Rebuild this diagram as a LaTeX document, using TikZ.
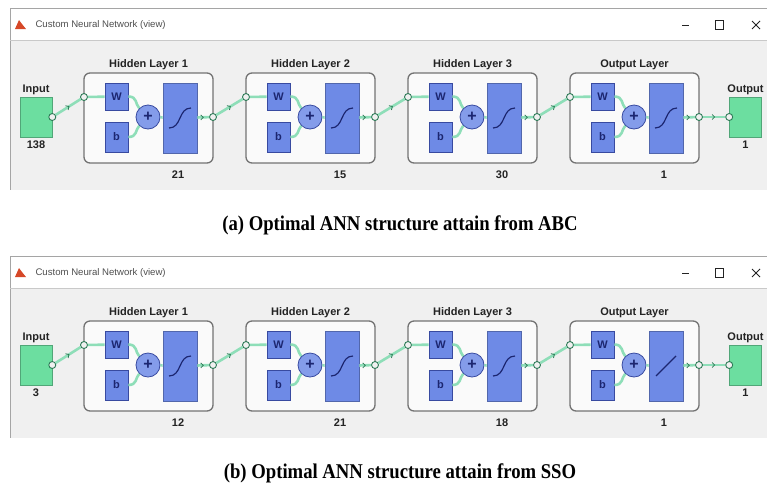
\documentclass[tikz,border=0pt]{standalone}
\usepackage{fontspec}
\setmainfont{Liberation Sans}
\newfontfamily\capfont{Liberation Serif}
\usetikzlibrary{calc,positioning,arrows.meta,decorations.markings}
\definecolor{nnbg}{RGB}{240,240,240}
\definecolor{nnpanel}{RGB}{250,250,250}
\definecolor{nnframe}{RGB}{165,165,165}
\definecolor{nnbox}{RGB}{115,115,115}
\definecolor{nntext}{RGB}{35,35,35}
\definecolor{nngreen}{RGB}{108,222,160}
\definecolor{nnwire}{RGB}{142,222,184}
\definecolor{nnwired}{RGB}{44,122,86}
\definecolor{nnblue}{RGB}{110,138,230}
\definecolor{nnblued}{RGB}{56,74,160}
\definecolor{nnink}{RGB}{28,38,112}
\definecolor{nnlogo}{RGB}{214,72,40}

\tikzset{
  layer/.style={draw=nnbox,fill=nnpanel,line width=1.3pt,rounded corners=6pt,
    minimum width=129pt,minimum height=90pt,inner sep=0pt},
  wb/.style={draw=nnblued,fill=nnblue,line width=.8pt,minimum width=23pt,
    minimum height=27pt,inner sep=0pt,font=\bfseries\fontsize{11}{11}\selectfont,text=nnink},
  sum/.style={circle,draw=nnblued,fill=nnblue!85!white,line width=.8pt,minimum size=24pt,
    inner sep=0pt,font=\bfseries\fontsize{16}{16}\selectfont,text=nnink},
  tf/.style={draw=nnblue!75!black,fill=nnblue,line width=.8pt,minimum width=34pt,
    minimum height=70pt,inner sep=0pt},
  iobox/.style={draw=nngreen!75!black,fill=nngreen,line width=.6pt,minimum width=32pt,
    minimum height=40pt,inner sep=0pt},
  dot/.style={circle,draw=nnwired,fill=nnbg,line width=.9pt,minimum size=7pt,inner sep=0pt},
  lbl/.style={font=\bfseries\fontsize{11}{12}\selectfont,text=nntext,inner sep=1pt},
  wire/.style={draw=nnwire,line width=2.6pt},
  flow/.style={wire,postaction={decorate},decoration={markings,
    mark=at position .55 with {\arrow{Straight Barb[length=2.5pt,width=5pt,line width=.8pt,color=nnwired]}}}},
  capt/.style={font=\capfont\bfseries\fontsize{21}{24}\selectfont,text=black,xscale=.89,transform shape}
}

\begin{document}
\begin{tikzpicture}[x=1pt,y=-1pt]
\useasboundingbox (0,0) rectangle (767,483);
\foreach \p/\dy/\nin/\sizes/\lin/\capt in {a/0/138/{21,15,30,1}/0/{(a) Optimal ANN structure attain from ABC},
    b/248/3/{12,21,18,1}/1/{(b) Optimal ANN structure attain from SSO}}{
  \begin{scope}[yshift=-\dy pt]
    % window
    \fill[white] (10,8) rectangle (768,40);
    \fill[nnbg] (10,40) rectangle (768,190);
    \draw[nnframe] (768,8) -- (10,8) -- (10,190);
    \draw[nnframe!60] (10,40) -- (768,40);
    \fill[nnlogo] (15,29) -- (19,20) -- (22,24) -- (26,29) -- cycle;
    \node[anchor=west,font=\fontsize{9.6}{10}\selectfont,text=nntext!80] (\p-title) at (32,25) {Custom Neural Network (view)};
    \draw[nntext,line width=.8pt] (682,25) -- (689,25);
    \draw[nntext,line width=.8pt] (715,20) rectangle (723,29);
    \draw[nntext,line width=.8pt] (752,21) -- (760,29) (752,29) -- (760,21);
    % input
    \node[iobox] (\p-in) at (36,117) {};
    \node[lbl,above=1pt of \p-in] {Input};
    \node[lbl,below=2pt of \p-in] {\nin};
    \node[dot] (\p0-o) at (\p-in.east) {};
    % layers
    \foreach \sz [count=\i] in \sizes {
      \pgfmathsetmacro\lx{84+162*(\i-1)}
      \pgfmathtruncatemacro\j{\i-1}
      \pgfmathtruncatemacro\lf{(\i==4)*\lin}
      \node[layer] (\p\i) at (\lx+64.5,118) {};
      \node[lbl,above=1pt of \p\i] {\ifnum\i<4 Hidden Layer \i\else Output Layer\fi};
      \node[wb] (\p\i-w) at (\lx+32.5,96.5) {W};
      \node[wb,minimum height=30pt] (\p\i-b) at (\lx+32.5,137) {b};
      \node[sum] (\p\i-s) at (\lx+64,117) {+};
      \node[tf] (\p\i-t) at (\lx+96,118) {};
      \node[lbl] (\p\i-n) at (\lx+94,175) {\sz};
      \node[dot] (\p\i-i) at (\lx,97) {};
      \node[dot] (\p\i-o) at (\lx+129,117) {};
      \draw[flow] (\p\j-o) -- (\p\i-i);
      \draw[wire] (\p\i-i) -- (\p\i-w);
      \draw[wire] (\p\i-w.east) .. controls ($(\p\i-w.east)+(9,0)$) and ($(\p\i-s.north west)+(-4,-4)$) .. (\p\i-s.north west);
      \draw[wire] (\p\i-b.east) .. controls ($(\p\i-b.east)+(9,0)$) and ($(\p\i-s.south west)+(-4,4)$) .. (\p\i-s.south west);
      \draw[wire] (\p\i-s) -- (\p\i-t);
      \draw[flow] (\p\i-t) -- (\p\i-o);
      \ifnum\lf=1
        \draw[nnink,line width=1.2pt] ($(\p\i-t)+(-10,10)$) -- ($(\p\i-t)+(10,-10)$);
      \else
        \draw[nnink,line width=1.2pt] ($(\p\i-t)+(-11,10)$) .. controls ($(\p\i-t)+(2,10)$) and ($(\p\i-t)+(-2,-10)$) .. ($(\p\i-t)+(11,-10)$);
      \fi
    }
    % output
    \node[iobox] (\p-out) at (745.5,117) {};
    \node[lbl,above=1pt of \p-out] {Output};
    \node[lbl,below=2pt of \p-out] {1};
    \node[dot] (\p-oi) at (\p-out.west) {};
    \draw[flow] (\p4-o) -- (\p-oi);
    \node[capt] (\p-cap) at (400,225) {\capt};
  \end{scope}
}
\end{tikzpicture}
\end{document}
